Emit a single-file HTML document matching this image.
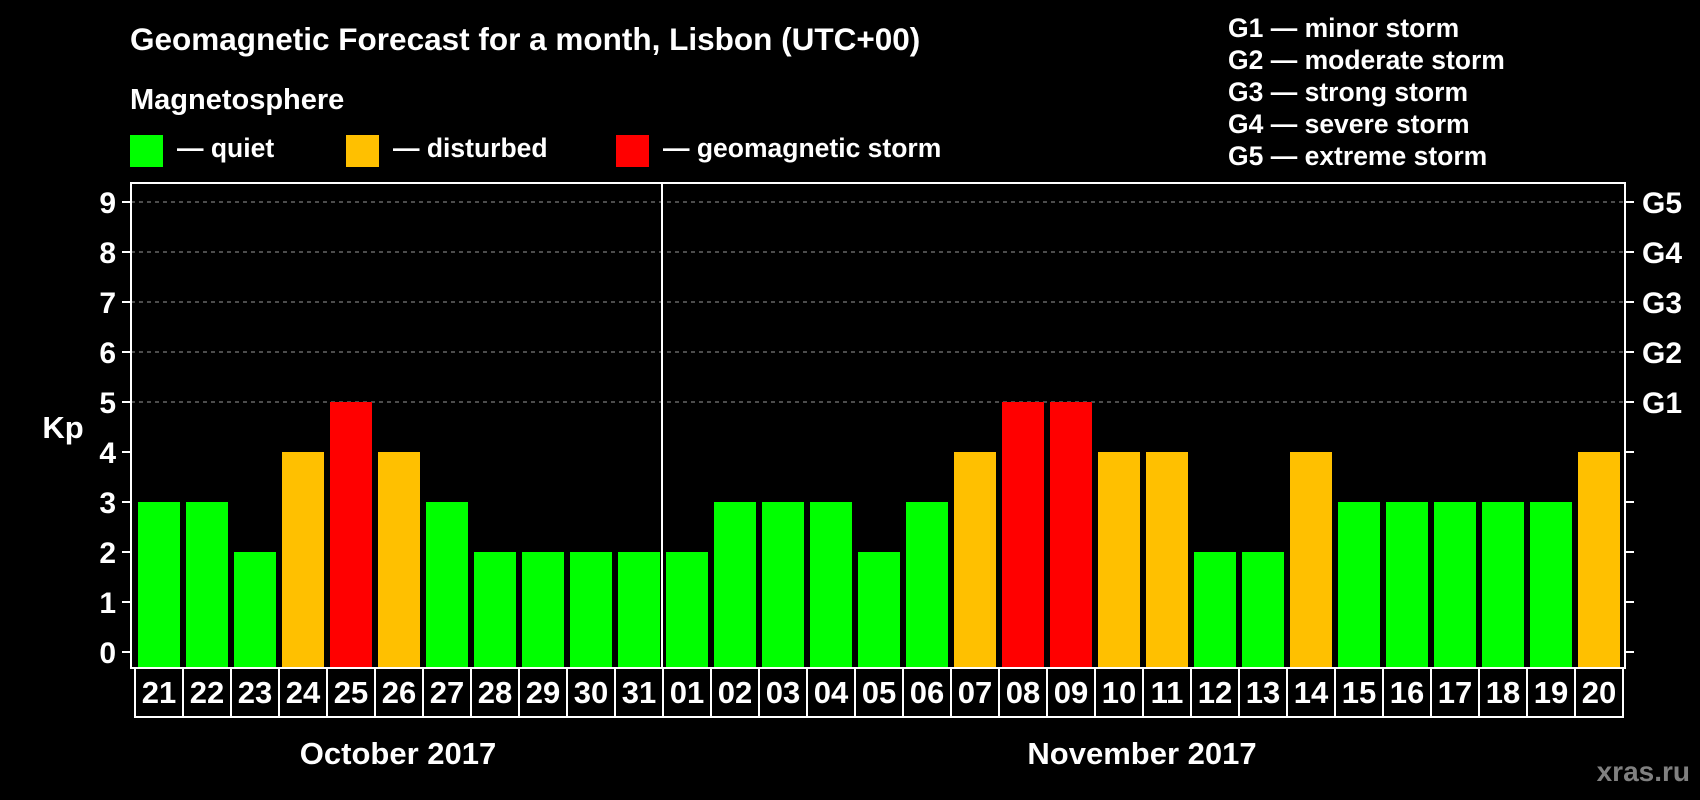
<!DOCTYPE html>
<html><head><meta charset="utf-8"><style>
html,body{margin:0;padding:0;background:#000;}
svg{display:block;font-family:"Liberation Sans",Arial,sans-serif;font-weight:bold;}
</style></head><body>
<svg id="chart" width="1700" height="800" viewBox="0 0 1700 800" xmlns="http://www.w3.org/2000/svg">
<rect width="1700" height="800" fill="#000"/>
<text x="130" y="50" fill="#fff" font-size="31.5">Geomagnetic Forecast for a month, Lisbon (UTC+00)</text>
<text x="130" y="109" fill="#fff" font-size="29">Magnetosphere</text>
<g>
<rect x="130" y="135" width="33" height="32" fill="#00ff00"/>
<text x="177" y="157" fill="#fff" font-size="26.5">— quiet</text>
<rect x="346" y="135" width="33" height="32" fill="#ffc000"/>
<text x="393" y="157" fill="#fff" font-size="26.5">— disturbed</text>
<rect x="616" y="135" width="33" height="32" fill="#ff0000"/>
<text x="663" y="157" fill="#fff" font-size="26.5">— geomagnetic storm</text>
</g>
<g fill="#fff" font-size="26.5">
<text x="1228" y="37">G1 — minor storm</text>
<text x="1228" y="69">G2 — moderate storm</text>
<text x="1228" y="101">G3 — strong storm</text>
<text x="1228" y="133">G4 — severe storm</text>
<text x="1228" y="165">G5 — extreme storm</text>
</g>
<text x="63" y="438" fill="#fff" font-size="31" text-anchor="middle">Kp</text>
<g id="plot"></g>
<text x="398" y="764" fill="#fff" font-size="31" text-anchor="middle">October 2017</text>
<text x="1142" y="764" fill="#fff" font-size="31" text-anchor="middle">November 2017</text>
<text x="1690" y="781" fill="#808080" font-size="28" text-anchor="end">xras.ru</text>
</svg>
<script>
const days = ["21","22","23","24","25","26","27","28","29","30","31","01","02","03","04","05","06","07","08","09","10","11","12","13","14","15","16","17","18","19","20"];
const kp = [3,3,2,4,5,4,3,2,2,2,2,2,3,3,3,2,3,4,5,5,4,4,2,2,4,3,3,3,3,3,4];
const yTicks = [0,1,2,3,4,5,6,7,8,9];
const gLabels = {5:"G1",6:"G2",7:"G3",8:"G4",9:"G5"};

const NS = "http://www.w3.org/2000/svg";
const g = document.getElementById('plot');
const L=131, R=1625, T=183, B=668, x0=134, slot=48;
const y = v => 652 - v*50;
const xs = i => x0 + i*slot;
function mk(tag, attrs){const e=document.createElementNS(NS,tag);for(const k in attrs)e.setAttribute(k,attrs[k]);g.appendChild(e);return e;}
function color(v){return v>=5?"#ff0000":(v>=4?"#ffc000":"#00ff00");}

yTicks.forEach(v=>{
  const yy=y(v);
  if(v>=5){const gl=mk('line',{x1:L,x2:R,y1:yy,y2:yy,stroke:"#999","stroke-width":1,"stroke-dasharray":"4,4"});
  
  }
  const t1=mk('line',{x1:122,x2:L,y1:yy,y2:yy,stroke:"#fff","stroke-width":2});
  
  
  const t2=mk('line',{x1:R,x2:1634,y1:yy,y2:yy,stroke:"#fff","stroke-width":2});
  
  
  const lb=mk('text',{x:116,y:yy+11,fill:"#fff","font-size":30,"text-anchor":"end"});
  lb.textContent=v;
  
  
  if(gLabels[v]){const gt=mk('text',{x:1642,y:yy+11,fill:"#fff","font-size":30});
  gt.textContent=gLabels[v];
  
  }
});

kp.forEach((v,i)=>{
  const b=mk('rect',{x:xs(i)+4,y:y(v),width:42,height:B-y(v),fill:color(v)});
  
  
  const c=mk('rect',{x:xs(i)+1,y:B,width:slot,height:49,fill:"none",stroke:"#fff","stroke-width":2});
  
  
  const t=mk('text',{x:xs(i)+25,y:703,fill:"#fff","font-size":31,"text-anchor":"middle"});
  t.textContent=days[i];
  
  
});

const frame=mk('rect',{x:L,y:T,width:R-L,height:B-T,fill:"none",stroke:"#fff","stroke-width":2});


const idx=days.indexOf("01");
const div=mk('line',{x1:xs(idx),x2:xs(idx),y1:T,y2:B,stroke:"#fff","stroke-width":2});


</script>
</body></html>
